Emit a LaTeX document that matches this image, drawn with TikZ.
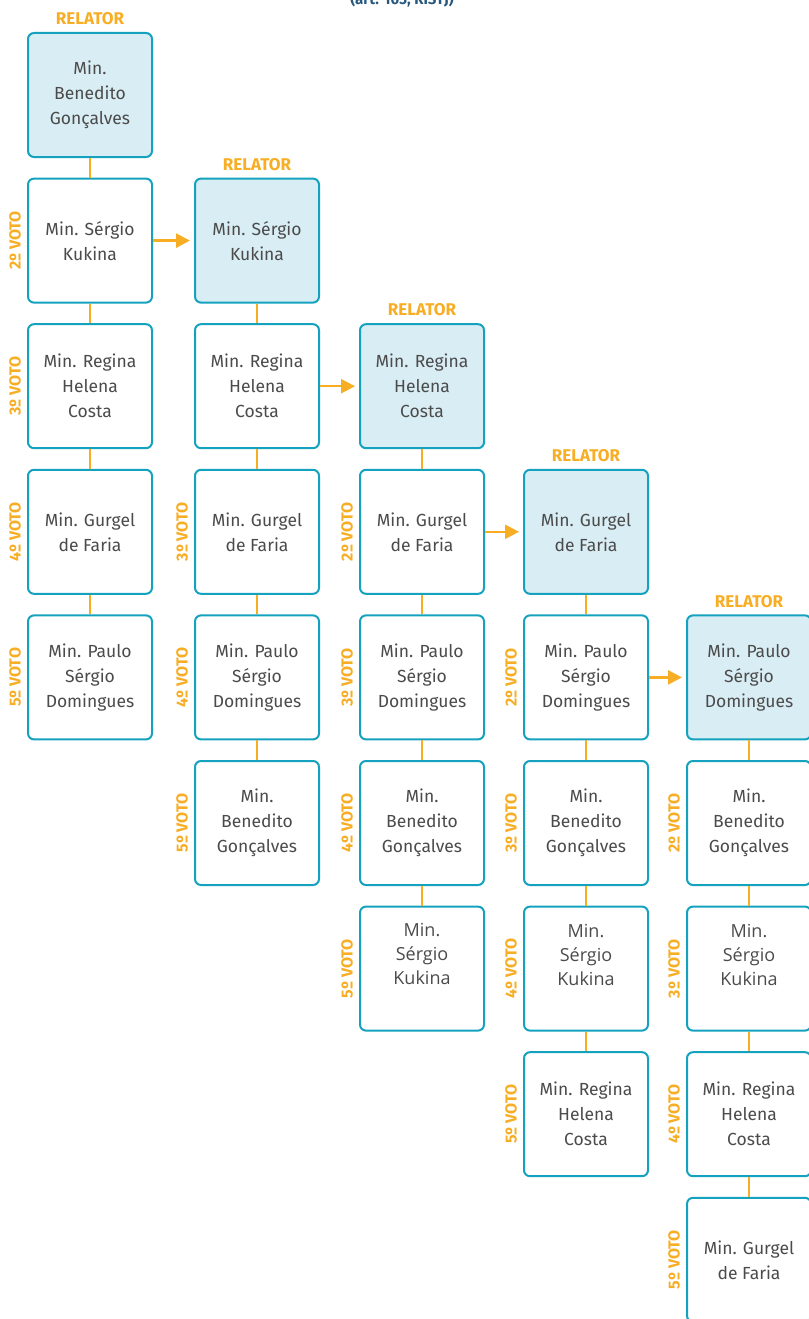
\documentclass[tikz,border=0pt]{standalone}
\usepackage{fontspec}
\setmainfont{Fira Sans}
\newfontfamily\wideface{Open Sans}
\usetikzlibrary{arrows.meta}
\definecolor{bordc}{RGB}{20,162,190}
\definecolor{fillc}{RGB}{217,237,244}
\definecolor{orc}{RGB}{247,173,36}
\definecolor{txtc}{RGB}{75,75,75}
\definecolor{titc}{RGB}{40,88,125}
\tikzset{
  mbox/.style={draw=bordc, fill=white, line width=2pt, rounded corners=6pt,
    minimum width=124pt, minimum height=124pt, inner sep=0pt, align=center,
    text=txtc, font=\fontsize{17.5}{25}\selectfont},
  rbox/.style={mbox, fill=fillc},
  wtxt/.style={text=txtc, align=center, font=\wideface\fontsize{18}{24}\selectfont},
  rellab/.style={text=orc, font=\bfseries\fontsize{17}{17}\selectfont, inner sep=0pt},
  vote/.style={text=orc, font=\bfseries\fontsize{16}{16}\selectfont, rotate=90, inner sep=0pt},
  conn/.style={draw=orc, line width=2.5pt},
  arr/.style={draw=orc, line width=2.5pt, -{Triangle[length=14pt,width=14pt]}, shorten >=4pt}
}
\begin{document}
\begin{tikzpicture}[x=1pt,y=-1pt]
\useasboundingbox (0,0) rectangle (808,1319);
\node[text=titc, font=\bfseries\fontsize{15}{15}\selectfont, anchor=base] (title) at (402,5) {(art. 165, RISTJ)};

% column 1
\node[rbox] (a0) at (90,95) {Min.\\Benedito\\Gonçalves};
\node[mbox] (a1) at (90,240.6) {Min. Sérgio\\Kukina};
\node[mbox] (a2) at (90,386.2) {Min. Regina\\Helena\\Costa};
\node[mbox] (a3) at (90,531.8) {Min. Gurgel\\de Faria};
\node[mbox] (a4) at (90,677.4) {Min. Paulo\\Sérgio\\Domingues};
\node[rellab] (la) at (90,19) {RELATOR};
\node[vote] (va1) at (15,240.6) {2º VOTO};
\node[vote] (va2) at (15,386.2) {3º VOTO};
\node[vote] (va3) at (15,531.8) {4º VOTO};
\node[vote] (va4) at (15,677.4) {5º VOTO};

% column 2
\node[rbox] (b1) at (257,240.6) {Min. Sérgio\\Kukina};
\node[mbox] (b2) at (257,386.2) {Min. Regina\\Helena\\Costa};
\node[mbox] (b3) at (257,531.8) {Min. Gurgel\\de Faria};
\node[mbox] (b4) at (257,677.4) {Min. Paulo\\Sérgio\\Domingues};
\node[mbox] (b5) at (257,823) {Min.\\Benedito\\Gonçalves};
\node[rellab] (lb) at (257,164.5) {RELATOR};
\node[vote] (vb2) at (182,531.8) {3º VOTO};
\node[vote] (vb3) at (182,677.4) {4º VOTO};
\node[vote] (vb4) at (182,823) {5º VOTO};

% column 3
\node[rbox] (c2) at (422,386.2) {Min. Regina\\Helena\\Costa};
\node[mbox] (c3) at (422,531.8) {Min. Gurgel\\de Faria};
\node[mbox] (c4) at (422,677.4) {Min. Paulo\\Sérgio\\Domingues};
\node[mbox] (c5) at (422,823) {Min.\\Benedito\\Gonçalves};
\node[mbox] (c6) at (422,968.6) {};
\node[wtxt] (tc6) at (422,954) {Min.\\Sérgio\\Kukina};
\node[rellab] (lc) at (422,310) {RELATOR};
\node[vote] (vc3) at (347,531.8) {2º VOTO};
\node[vote] (vc4) at (347,677.4) {3º VOTO};
\node[vote] (vc5) at (347,823) {4º VOTO};
\node[vote] (vc6) at (347,968.6) {5º VOTO};

% column 4
\node[rbox] (d3) at (586,531.8) {Min. Gurgel\\de Faria};
\node[mbox] (d4) at (586,677.4) {Min. Paulo\\Sérgio\\Domingues};
\node[mbox] (d5) at (586,823) {Min.\\Benedito\\Gonçalves};
\node[mbox] (d6) at (586,968.6) {};
\node[wtxt] (td6) at (586,955) {Min.\\Sérgio\\Kukina};
\node[mbox] (d7) at (586,1114.2) {Min. Regina\\Helena\\Costa};
\node[rellab] (ld) at (586,456) {RELATOR};
\node[vote] (vd4) at (511,677.4) {2º VOTO};
\node[vote] (vd5) at (511,823) {3º VOTO};
\node[vote] (vd6) at (511,968.6) {4º VOTO};
\node[vote] (vd7) at (511,1114.2) {5º VOTO};

% column 5
\node[rbox] (e4) at (749,677.4) {Min. Paulo\\Sérgio\\Domingues};
\node[mbox] (e5) at (749,823) {Min.\\Benedito\\Gonçalves};
\node[mbox] (e6) at (749,968.6) {};
\node[wtxt] (te6) at (749,955) {Min.\\Sérgio\\Kukina};
\node[mbox] (e7) at (749,1114.2) {Min. Regina\\Helena\\Costa};
\node[mbox] (e8) at (749,1259.8) {Min. Gurgel\\de Faria};
\node[rellab] (le) at (749,602) {RELATOR};
\node[vote] (ve5) at (674,823) {2º VOTO};
\node[vote] (ve6) at (674,968.6) {3º VOTO};
\node[vote] (ve7) at (674,1114.2) {4º VOTO};
\node[vote] (ve8) at (674,1259.8) {5º VOTO};

% vertical connectors
\draw[conn] (a0.south) -- (a1.north);
\draw[conn] (a1.south) -- (a2.north);
\draw[conn] (a2.south) -- (a3.north);
\draw[conn] (a3.south) -- (a4.north);
\draw[conn] (b1.south) -- (b2.north);
\draw[conn] (b2.south) -- (b3.north);
\draw[conn] (b3.south) -- (b4.north);
\draw[conn] (b4.south) -- (b5.north);
\draw[conn] (c2.south) -- (c3.north);
\draw[conn] (c3.south) -- (c4.north);
\draw[conn] (c4.south) -- (c5.north);
\draw[conn] (c5.south) -- (c6.north);
\draw[conn] (d3.south) -- (d4.north);
\draw[conn] (d4.south) -- (d5.north);
\draw[conn] (d5.south) -- (d6.north);
\draw[conn] (d6.south) -- (d7.north);
\draw[conn] (e4.south) -- (e5.north);
\draw[conn] (e5.south) -- (e6.north);
\draw[conn] (e6.south) -- (e7.north);
\draw[conn] (e7.south) -- (e8.north);

% arrows to the new relator
\draw[arr] (a1.east) -- (b1.west);
\draw[arr] (b2.east) -- (c2.west);
\draw[arr] (c3.east) -- (d3.west);
\draw[arr] (d4.east) -- (e4.west);
\end{tikzpicture}
\end{document}
